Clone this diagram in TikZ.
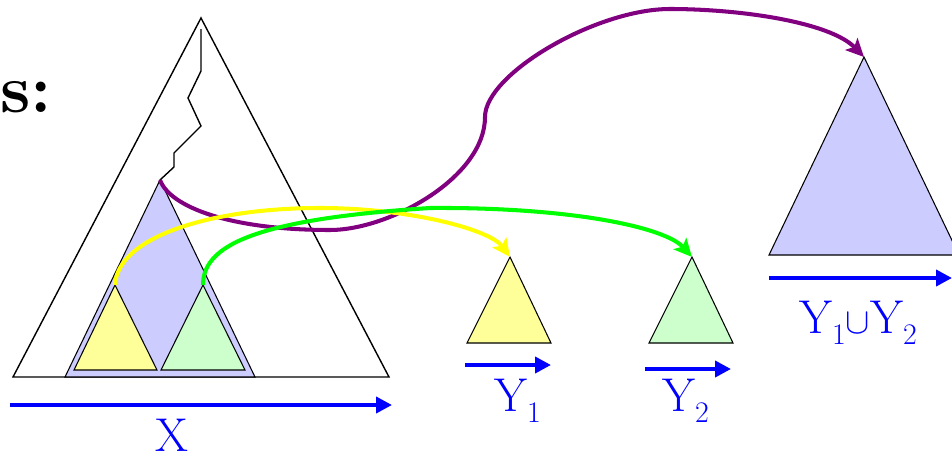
\documentclass[tikz,border=0pt]{standalone}
\usepackage{xcolor}
\usepackage{tikz}
\usetikzlibrary{arrows.meta}
\definecolor{lav}{HTML}{CCCCFF}
\definecolor{lemon}{HTML}{FFFF99}
\definecolor{mint}{HTML}{CCFFCC}
\definecolor{plum}{HTML}{800080}
\definecolor{yel}{HTML}{FFFF00}
\definecolor{grn}{HTML}{00FF00}
\definecolor{axis}{HTML}{0000FF}
\newcommand{\lowsub}[1]{\raisebox{-0.22cm}{\fontsize{17}{17}\selectfont #1}}

\begin{document}
\begin{tikzpicture}[
  tri/.style={draw=black, line width=0.6pt, line join=miter},
  hop/.style={line width=2.3pt, -{Stealth[length=3.6mm, width=3.4mm, inset=0.8mm]}},
  dir/.style={axis, line width=2.2pt, -{Triangle[length=3.2mm, width=3.2mm]}},
  lbl/.style={text=axis, font=\fontsize{27}{27}\selectfont, inner sep=0pt}]
\useasboundingbox (0,0) rectangle (19.04,9.14);
\clip (0,0) rectangle (19.04,9.14);
% title fragment
\node[font=\bfseries\fontsize{39}{39}\selectfont, anchor=base west, inner sep=0pt] (title) at (0.0,6.90) {s:};
% big tree X
\draw[tri, line width=0.8pt] (4.02,8.78) -- (0.26,1.60) -- (7.78,1.60) -- cycle;
\draw[line width=0.8pt, line join=miter] (4.02,8.56) -- (4.02,7.72) -- (3.76,7.18) -- (4.02,6.62) -- (3.48,6.08) -- (3.48,5.80) -- (3.20,5.54);
\draw[tri, fill=lav] (3.20,5.54) -- (1.30,1.60) -- (5.10,1.60) -- cycle;
\draw[tri, fill=lemon] (2.30,3.44) -- (1.48,1.74) -- (3.14,1.74) -- cycle;
\draw[tri, fill=mint] (4.06,3.44) -- (3.22,1.74) -- (4.90,1.74) -- cycle;
\coordinate (subtop) at (3.20,5.54);
\coordinate (ytop) at (2.30,3.44);
\coordinate (gtop) at (4.06,3.44);
\draw[dir] (0.20,1.04) -- (7.84,1.04);
\node[lbl, anchor=base] (xlab) at (3.43,0.12) {X};
% split results
\draw[tri, fill=lemon] (10.20,4.00) -- (9.34,2.28) -- (11.02,2.28) -- cycle;
\draw[tri, fill=mint] (13.84,4.00) -- (12.98,2.28) -- (14.66,2.28) -- cycle;
\coordinate (y1top) at (10.20,4.00);
\coordinate (y2top) at (13.84,4.00);
\draw[dir] (9.30,1.84) -- (11.02,1.84);
\draw[dir] (12.90,1.76) -- (14.62,1.76);
\node[lbl, anchor=base west] (y1lab) at (9.88,0.92) {Y\lowsub{1}};
\node[lbl, anchor=base west] (y2lab) at (13.24,0.92) {Y\lowsub{2}};
% union
\draw[tri, fill=lav] (17.28,8.00) -- (15.38,4.04) -- (19.18,4.04) -- cycle;
\coordinate (unitop) at (17.28,8.00);
\draw[dir] (15.38,3.58) -- (19.04,3.58);
\node[lbl, anchor=base west] (ulab) at (15.98,2.48) {Y\lowsub{1}{\fontsize{22}{22}\selectfont$\cup$}Y\lowsub{2}};
% moves
\draw[hop, plum] (subtop) .. controls (3.4,5.0) and (4.6,4.54) .. (6.6,4.54)
  .. controls (7.8,4.54) and (9.7,5.6) .. (9.70,6.80)
  .. controls (9.70,7.66) and (11.92,8.96) .. (13.40,8.96)
  .. controls (14.8,8.96) and (16.6,8.7) .. (unitop);
\draw[hop, yel] (ytop) .. controls (2.35,4.4) and (4.2,4.98) .. (6.4,4.98)
  .. controls (8.2,4.98) and (9.8,4.55) .. (y1top);
\draw[hop, grn] (gtop) .. controls (4.06,4.2) and (5.0,4.75) .. (8.6,4.98)
  .. controls (11.4,5.0) and (13.3,4.6) .. (y2top);
\end{tikzpicture}
\end{document}
